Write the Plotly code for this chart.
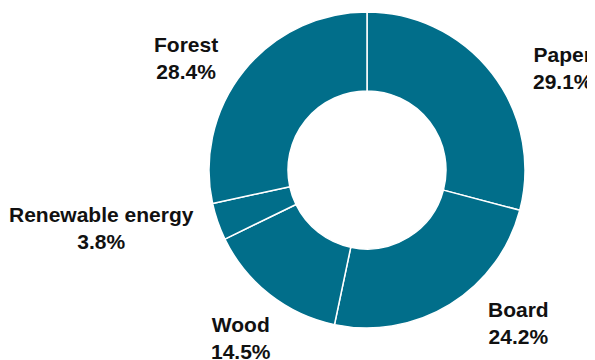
import plotly.graph_objects as go

# Data
labels = ["Paper", "Board", "Wood", "Renewable energy", "Forest"]
values = [29.1, 24.2, 14.5, 3.8, 28.4]

# Styling / layout
W, H = 595, 360
OFF = 8  # page body margin offset in the browser
color = "#016E8A"
# label block centers in pixels as seen in the page (x from left, y from top)
label_pos = {
    "Paper": (563, 68),
    "Board": (519, 323),
    "Wood": (241, 338),
    "Renewable energy": (101, 228),
    "Forest": (186, 58),
}

cx, cy, r = 367 - OFF, 170 - OFF, 158

fig = go.Figure(
    go.Pie(
        labels=labels,
        values=values,
        sort=False,
        direction="clockwise",
        rotation=0,
        hole=0.5,
        marker=dict(colors=[color] * len(values), line=dict(color="white", width=1.5)),
        textinfo="none",
        hoverinfo="label+percent",
        showlegend=False,
        domain=dict(
            x=[(cx - r) / W, (cx + r) / W],
            y=[(H - cy - r) / H, (H - cy + r) / H],
        ),
    )
)

annotations = []
for lab, val in zip(labels, values):
    px, py = label_pos[lab]
    px -= OFF
    py -= OFF
    annotations.append(
        dict(
            x=px / W,
            y=1 - py / H,
            xref="paper",
            yref="paper",
            text=f"<b>{lab}</b><br><b>{val:.1f}%</b>",
            showarrow=False,
            xanchor="center",
            yanchor="middle",
            align="center",
            font=dict(family="Liberation Sans, Arial, sans-serif", size=21, color="#111111"),
        )
    )

fig.update_layout(
    width=W,
    height=H,
    margin=dict(l=0, r=0, t=0, b=0),
    paper_bgcolor="white",
    plot_bgcolor="white",
    annotations=annotations,
)

fig.write_html("out.html")
